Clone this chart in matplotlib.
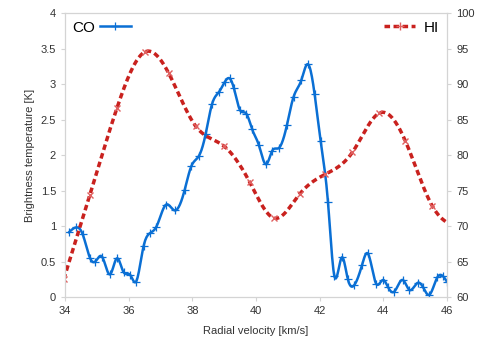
import numpy as np
import matplotlib
matplotlib.use("Agg")
import matplotlib.pyplot as plt
from matplotlib.lines import Line2D

# CO (left axis, K)
co_v = [34.12, 34.34, 34.55, 34.79, 34.95, 35.16, 35.42, 35.63, 35.84, 36.05,
        36.23, 36.47, 36.67, 36.87, 37.17, 37.45, 37.76, 37.97, 38.21, 38.42,
        38.62, 38.84, 39.02, 39.17, 39.30, 39.49, 39.70, 39.88, 40.09, 40.32,
        40.51, 40.72, 40.97, 41.18, 41.42, 41.63, 41.84, 42.03, 42.26, 42.46,
        42.70, 42.88, 43.09, 43.33, 43.51, 43.77, 44.00, 44.14, 44.34, 44.61,
        44.82, 45.08, 45.24, 45.44, 45.70, 45.88, 46.00]
co_t = [0.91, 0.98, 0.89, 0.545, 0.50, 0.57, 0.32, 0.545, 0.35, 0.31,
        0.215, 0.72, 0.90, 0.99, 1.30, 1.22, 1.51, 1.845, 1.99, 2.30,
        2.72, 2.89, 3.03, 3.08, 2.95, 2.64, 2.58, 2.36, 2.14, 1.87,
        2.06, 2.10, 2.42, 2.82, 3.05, 3.28, 2.86, 2.20, 1.34, 0.30,
        0.56, 0.26, 0.17, 0.45, 0.615, 0.19, 0.24, 0.145, 0.075, 0.24,
        0.10, 0.20, 0.145, 0.03, 0.28, 0.29, 0.215]

# HI (right axis)
hi_v = [33.96, 34.78, 35.63, 36.50, 37.26, 38.10, 38.98, 39.80, 40.58, 41.37,
        42.18, 43.03, 43.87, 44.69, 45.54, 46.36]
hi_t = [62.5, 74.4, 86.6, 94.5, 91.5, 84.1, 81.3, 76.2, 71.1, 74.5,
        77.3, 80.4, 85.9, 82.0, 72.8, 69.8]


def spline(x, y, n=600):
    # natural cubic spline, like the smoothed lines of the original
    x = np.asarray(x, float)
    y = np.asarray(y, float)
    h = np.diff(x)
    m = len(x)
    A = np.zeros((m, m))
    b = np.zeros(m)
    A[0, 0] = A[-1, -1] = 1
    for i in range(1, m - 1):
        A[i, i - 1] = h[i - 1]
        A[i, i] = 2 * (h[i - 1] + h[i])
        A[i, i + 1] = h[i]
        b[i] = 6 * ((y[i + 1] - y[i]) / h[i] - (y[i] - y[i - 1]) / h[i - 1])
    M = np.linalg.solve(A, b)
    xs = np.linspace(x[0], x[-1], n)
    i = np.clip(np.searchsorted(x, xs) - 1, 0, m - 2)
    t0 = xs - x[i]
    t1 = x[i + 1] - xs
    hh = h[i]
    ys = (M[i] * t1 ** 3 / (6 * hh) + M[i + 1] * t0 ** 3 / (6 * hh)
          + (y[i] / hh - M[i] * hh / 6) * t1 + (y[i + 1] / hh - M[i + 1] * hh / 6) * t0)
    return xs, ys


co_col = "#0a6fd4"
hi_col = "#c9211e"
grey = "#d4d4d4"
txt = "#333333"
plt.rcParams["font.family"] = ["Liberation Sans", "DejaVu Sans"]

fig = plt.figure(figsize=(4.91, 3.53), dpi=100)
ax = fig.add_axes([0.1324, 0.1586, 0.778, 0.8044])
ax2 = ax.twinx()

xs, ys = spline(co_v, co_t)
ax.plot(xs, ys, color=co_col, lw=1.8, solid_capstyle="round")
ax.plot(co_v, co_t, ls="none", marker="+", ms=6, mew=0.9, color=co_col)

xs2, ys2 = spline(hi_v, hi_t)
hi_ls = (0, (1.6, 1.0))
ax2.plot(xs2, ys2, color=hi_col, lw=2.5, ls=hi_ls)
ax2.plot(hi_v, hi_t, ls="none", marker="x", ms=5, mew=1.0, color="#e06060")

ax.set_xlim(34, 46)
ax.set_ylim(0, 4)
ax2.set_ylim(60, 100)
ax.set_xticks(np.arange(34, 47, 2))
ax.set_yticks(np.arange(0, 4.01, 0.5))
ax.set_yticklabels(["0", "0.5", "1", "1.5", "2", "2.5", "3", "3.5", "4"])
ax2.set_yticks(np.arange(60, 101, 5))

for a in (ax, ax2):
    for s in a.spines.values():
        s.set_color(grey)
    a.tick_params(colors=grey, labelcolor=txt, labelsize=8, length=3, width=0.8)

ax.set_xlabel("Radial velocity [km/s]", fontsize=8, color=txt, labelpad=7)
ax.set_ylabel("Brightness temperature [K]", fontsize=8, color=txt, labelpad=4)

h_co = Line2D([], [], color=co_col, lw=1.8, marker="+", ms=6, mew=0.9)
h_hi = Line2D([], [], color=hi_col, lw=2.5, ls=hi_ls, marker="+", ms=6,
              mec="#e06060", mew=1.0)
l1 = ax2.legend([h_co], ["CO"], loc="upper left", frameon=False, markerfirst=False,
                fontsize=11, handlelength=2.0, borderaxespad=0.1, borderpad=0.4,
                handletextpad=0.3)
ax2.add_artist(l1)
ax2.legend([h_hi], ["HI"], loc="upper right", frameon=False,
           fontsize=11, handlelength=2.0, borderaxespad=0.1, borderpad=0.4,
           handletextpad=0.6)

fig.savefig("out.png", dpi=100)
